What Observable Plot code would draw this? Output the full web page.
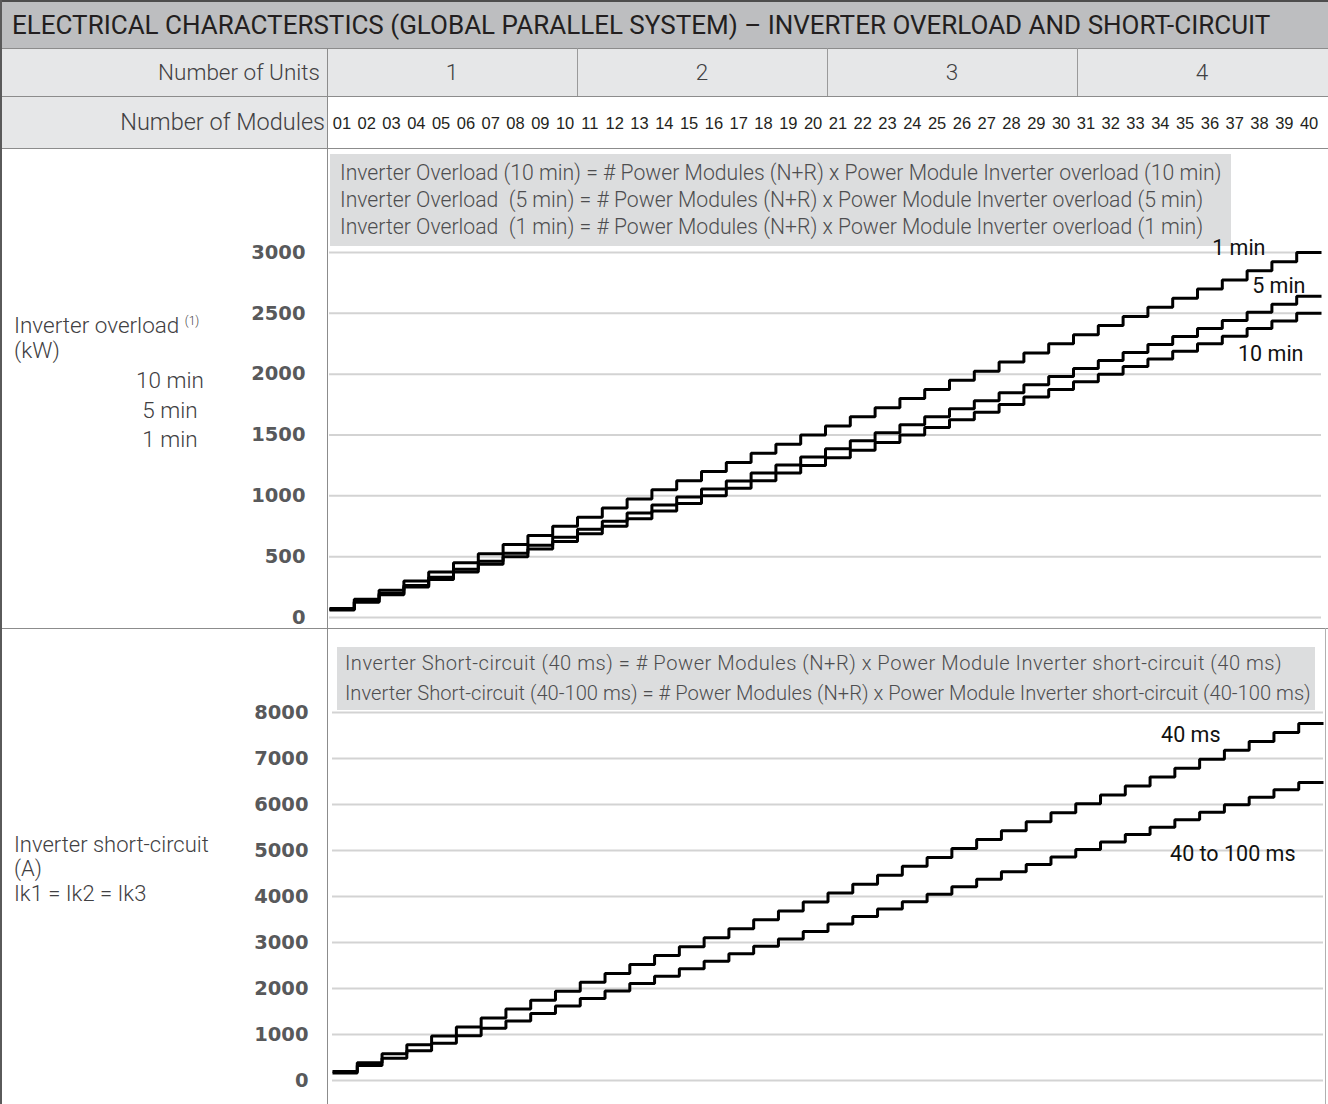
<!DOCTYPE html>
<html>
<head>
<meta charset="utf-8">
<script src="https://cdn.jsdelivr.net/npm/d3@7"></script>
<script src="https://cdn.jsdelivr.net/npm/@observablehq/plot@0.6"></script>
<style>
  html, body { margin: 0; padding: 0; background: #fff; }
  #wrap { position: relative; width: 1328px; height: 1104px; overflow: hidden; font-family: Roboto, "Liberation Sans", sans-serif; color: #414042; }
  .abs { position: absolute; }
  .line { position: absolute; background: #8c8c8c; z-index: 5; }
  .txt { position: absolute; white-space: pre; font-weight: 300; font-size: 22.5px; line-height: 20px; }
  .sup { position: relative; top: -8px; font-size: 12px; }
  .legend { position: absolute; background: #dcddde; z-index: 2; white-space: pre; font-weight: 300; color: #4d4d4f; }
  svg.plotsvg { position: absolute; left: 0; z-index: 3; }
</style>
</head>
<body>
<div id="wrap"></div>
<script>
// ---------- data ----------
const title = "ELECTRICAL CHARACTERSTICS (GLOBAL PARALLEL SYSTEM) \u2013 INVERTER OVERLOAD AND SHORT-CIRCUIT";
const units = ["1", "2", "3", "4"];
const modules = ["01","02","03","04","05","06","07","08","09","10",
                 "11","12","13","14","15","16","17","18","19","20",
                 "21","22","23","24","25","26","27","28","29","30",
                 "31","32","33","34","35","36","37","38","39","40"];
const overloadTicks = [0, 500, 1000, 1500, 2000, 2500, 3000];
const shortTicks = [0, 1000, 2000, 3000, 4000, 5000, 6000, 7000, 8000];

const overload10min = [62.5,125,187.5,250,312.5,375,437.5,500,562.5,625,
  687.5,750,812.5,875,937.5,1000,1062.5,1125,1187.5,1250,
  1312.5,1375,1437.5,1500,1562.5,1625,1687.5,1750,1812.5,1875,
  1937.5,2000,2062.5,2125,2187.5,2250,2312.5,2375,2437.5,2500];
const overload5min = [66,132,198,264,330,396,462,528,594,660,
  726,792,858,924,990,1056,1122,1188,1254,1320,
  1386,1452,1518,1584,1650,1716,1782,1848,1914,1980,
  2046,2112,2178,2244,2310,2376,2442,2508,2574,2640];
const overload1min = [75,150,225,300,375,450,525,600,675,750,
  825,900,975,1050,1125,1200,1275,1350,1425,1500,
  1575,1650,1725,1800,1875,1950,2025,2100,2175,2250,
  2325,2400,2475,2550,2625,2700,2775,2850,2925,3000];
const short40ms = [194,388,582,776,970,1164,1358,1552,1746,1940,
  2134,2328,2522,2716,2910,3104,3298,3492,3686,3880,
  4074,4268,4462,4656,4850,5044,5238,5432,5626,5820,
  6014,6208,6402,6596,6790,6984,7178,7372,7566,7760];
const short40to100ms = [162,324,486,648,810,972,1134,1296,1458,1620,
  1782,1944,2106,2268,2430,2592,2754,2916,3078,3240,
  3402,3564,3726,3888,4050,4212,4374,4536,4698,4860,
  5022,5184,5346,5508,5670,5832,5994,6156,6318,6480];

const overloadLegend = [
  "Inverter Overload (10 min) = # Power Modules (N+R) x Power Module Inverter overload (10 min)",
  "Inverter Overload  (5 min) = # Power Modules (N+R) x Power Module Inverter overload (5 min)",
  "Inverter Overload  (1 min) = # Power Modules (N+R) x Power Module Inverter overload (1 min)"
];
const shortLegend = [
  "Inverter Short-circuit (40 ms) = # Power Modules (N+R) x Power Module Inverter short-circuit (40 ms)",
  "Inverter Short-circuit (40-100 ms) = # Power Modules (N+R) x Power Module Inverter short-circuit (40-100 ms)"
];
const overloadNames = ["10 min", "5 min", "1 min"];
const shortNames = ["40 ms", "40 to 100 ms"];

// ---------- helpers ----------
const wrap = document.getElementById("wrap");
function el(tag, cls, css, html) {
  const e = document.createElement(tag);
  if (cls) e.className = cls;
  Object.assign(e.style, css);
  if (html != null) e.innerHTML = html;
  wrap.appendChild(e);
  return e;
}
function hline(y, x1, x2, color, w) { el("div", "line", {left: x1 + "px", top: y + "px", width: (x2 - x1) + "px", height: (w || 1) + "px", background: color || "#8c8c8c"}); }
function vline(x, y1, y2, color, w) { el("div", "line", {left: x + "px", top: y1 + "px", height: (y2 - y1) + "px", width: (w || 1) + "px", background: color || "#8c8c8c"}); }
function steps(values) {
  const pts = values.map((v, i) => ({x: i, y: v}));
  pts.push({x: values.length, y: values[values.length - 1]});
  return pts;
}
function lastPoint(values) { return [{x: values.length, y: values[values.length - 1]}]; }

// ---------- table background ----------
el("div", "abs", {left: "0px", top: "0px", width: "1328px", height: "48px", background: "#bdbec0"});
el("div", "abs", {left: "0px", top: "48px", width: "1328px", height: "48px", background: "#e6e7e8"});
el("div", "abs", {left: "0px", top: "96px", width: "327px", height: "52px", background: "#e6e7e8"});

el("div", "txt", {left: "12px", top: "12px", fontSize: "26px", lineHeight: "26px", fontWeight: "400", color: "#231f20", zIndex: 6}, title);
el("div", "txt", {left: "0px", width: "320px", textAlign: "right", top: "62px"}, "Number of Units");
units.forEach((u, i) => {
  el("div", "txt", {left: (327 + i * 250) + "px", width: "250px", textAlign: "center", top: "62px"}, u);
});
el("div", "txt", {left: "0px", width: "325px", textAlign: "right", top: "112px", fontSize: "23.5px", zIndex: 6}, "Number of Modules");

// left labels
el("div", "txt", {left: "14px", top: "315px"}, 'Inverter overload <span class="sup">(1)</span>');
el("div", "txt", {left: "14px", top: "340px"}, "(kW)");
overloadNames.forEach((n, i) => {
  el("div", "txt", {left: "110px", width: "120px", textAlign: "center", top: (370 + i * 29.5) + "px"}, n);
});
el("div", "txt", {left: "14px", top: "835px", fontSize: "22px"}, "Inverter short-circuit");
el("div", "txt", {left: "14px", top: "859px", fontSize: "22px"}, "(A)");
el("div", "txt", {left: "14px", top: "884px", fontSize: "22px"}, "Ik1 = Ik2 = Ik3");

// legends
el("div", "legend", {left: "330px", top: "154px", width: "901px", height: "92px", fontSize: "21.2px", lineHeight: "27px", paddingLeft: "10px", paddingTop: "5px", boxSizing: "border-box"}, overloadLegend.join("\n"));
el("div", "legend", {left: "337px", top: "647px", width: "978px", height: "63px", fontSize: "20.15px", lineHeight: "30px", paddingLeft: "8px", paddingTop: "1px", boxSizing: "border-box"},
  '<span style="letter-spacing:0.5px">' + shortLegend[0] + '</span>\n' + shortLegend[1]);

// ---------- charts ----------
const lineStyle = {x: "x", y: "y", curve: "step-after", stroke: "#000", strokeWidth: 3, strokeLinejoin: "miter", strokeLinecap: "butt"};
const labelStyle = {x: "x", y: "y", textAnchor: "end", fontSize: 21.5, fill: "#111", fontFamily: "Roboto"};
const axisYStyle = {tickSize: 0, tickPadding: 24, tickFormat: d => String(d), fontSize: 19.5, fontWeight: "bold", fill: "#58595b", fontFamily: "DejaVu Sans", label: null};
const gridStyle = {stroke: "#d3d3d3", strokeOpacity: 1, strokeWidth: 2};

const topChart = Plot.plot({
  width: 1328, height: 532,
  marginTop: 156, marginBottom: 11, marginLeft: 329, marginRight: 7,
  x: {domain: [0, modules.length]},
  y: {domain: [0, 3000]},
  style: {background: "transparent", fontFamily: "Roboto", overflow: "visible"},
  marks: [
    Plot.gridY(overloadTicks, gridStyle),
    Plot.axisY(overloadTicks, axisYStyle),
    Plot.axisX(modules.map((_, i) => i + 0.5), {anchor: "top", tickSize: 0, tickPadding: 124, tickFormat: d => modules[Math.floor(d)], fontSize: 16.5, fill: "#231f20", fontFamily: "Liberation Sans Narrow, Liberation Sans", label: null}),
    Plot.line(steps(overload10min), lineStyle),
    Plot.line(steps(overload5min), lineStyle),
    Plot.line(steps(overload1min), lineStyle),
    Plot.text(lastPoint(overload1min), {...labelStyle, text: () => overloadNames[2], dx: -56, dy: -4}),
    Plot.text(lastPoint(overload5min), {...labelStyle, text: () => overloadNames[1], dx: -16, dy: -10}),
    Plot.text(lastPoint(overload10min), {...labelStyle, text: () => overloadNames[0], dx: -18, dy: 41})
  ]
});
topChart.classList.add("plotsvg");
topChart.style.top = "96px";
wrap.appendChild(topChart);

const bottomChart = Plot.plot({
  width: 1328, height: 476,
  marginTop: 84, marginBottom: 24, marginLeft: 332, marginRight: 5,
  x: {domain: [0, modules.length], axis: null},
  y: {domain: [0, 8000]},
  style: {background: "transparent", fontFamily: "Roboto", overflow: "visible"},
  marks: [
    Plot.gridY(shortTicks, gridStyle),
    Plot.axisY(shortTicks, axisYStyle),
    Plot.line(steps(short40to100ms), lineStyle),
    Plot.line(steps(short40ms), lineStyle),
    Plot.text(lastPoint(short40ms), {...labelStyle, text: () => shortNames[0], dx: -103, dy: 12}),
    Plot.text(lastPoint(short40to100ms), {...labelStyle, text: () => shortNames[1], dx: -28, dy: 72})
  ]
});
bottomChart.classList.add("plotsvg");
bottomChart.style.top = "628px";
wrap.appendChild(bottomChart);

// ---------- table lines ----------
hline(0, 0, 1328, "#4d4d4d", 2);
hline(48, 0, 1328, "#8c8c8c", 1);
hline(96, 0, 1328, "#8c8c8c", 1);
hline(148, 0, 1328, "#8c8c8c", 1);
hline(628, 0, 1328, "#8c8c8c", 1);
vline(0, 0, 1104, "#5a5a5a", 2);
vline(327, 48, 1104, "#8c8c8c", 1);
[577, 827, 1077].forEach(x => vline(x, 48, 96, "#9a9a9a", 1));
vline(1325, 628, 1104, "#b0b0b0", 1);
</script>
</body>
</html>
